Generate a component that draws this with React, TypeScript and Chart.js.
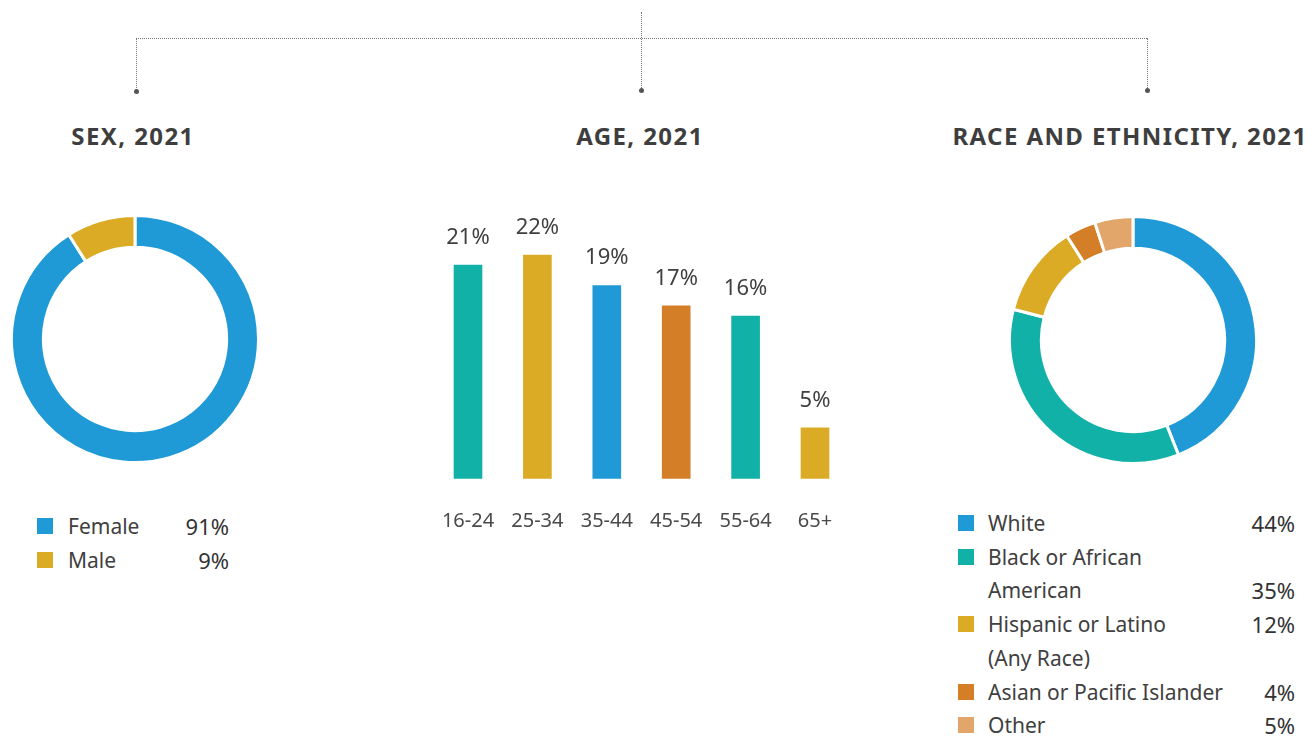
import React, { useEffect, useRef } from "react";
import { Chart, registerables } from "chart.js";
Chart.register(...registerables);

const titles = ["SEX, 2021", "AGE, 2021", "RACE AND ETHNICITY, 2021"];

const sexLabels = ["Female", "Male"];
const sexValues = [91, 9];
const sexColors = ["#1f9ad6", "#dcab26"];

const ageLabels = ["16-24", "25-34", "35-44", "45-54", "55-64", "65+"];
const ageValues = [21, 22, 19, 17, 16, 5];
const ageColors = ["#12b1a8", "#dcab26", "#1f9ad6", "#d47f27", "#12b1a8", "#dcab26"];

const raceLabels = [
  "White",
  "Black or African American",
  "Hispanic or Latino (Any Race)",
  "Asian or Pacific Islander",
  "Other",
];
const raceLegendLines = [
  ["White"],
  ["Black or African", "American"],
  ["Hispanic or Latino", "(Any Race)"],
  ["Asian or Pacific Islander"],
  ["Other"],
];
const raceValueLine = [0, 1, 0, 0, 0];
const raceValues = [44, 35, 12, 4, 5];
const raceColors = ["#1f9ad6", "#12b1a8", "#dcab26", "#d47f27", "#e2a66b"];

const FONT = '"Noto Sans", sans-serif';
const TEXT = "#404040";

function Donut(props: { labels: string[]; values: number[]; colors: string[]; left: number; top: number; size: number }) {
  const ref = useRef<HTMLCanvasElement | null>(null);
  useEffect(() => {
    if (!ref.current) return;
    const chart = new Chart(ref.current, {
      type: "doughnut",
      data: {
        labels: props.labels,
        datasets: [
          {
            data: props.values,
            backgroundColor: props.colors,
            borderColor: "#ffffff",
            borderWidth: 3,
            hoverOffset: 0,
          },
        ],
      },
      options: {
        responsive: false,
        animation: false,
        radius: 123.5,
        cutout: "74.2%",
        rotation: 0,
        plugins: { legend: { display: false }, tooltip: { enabled: false } },
        events: [],
      } as any,
    });
    return () => chart.destroy();
  }, []);
  return (
    <canvas
      ref={ref}
      width={props.size}
      height={props.size}
      style={{ position: "absolute", left: props.left, top: props.top, width: props.size, height: props.size }}
    />
  );
}

function Bars() {
  const ref = useRef<HTMLCanvasElement | null>(null);
  useEffect(() => {
    if (!ref.current) return;
    const labelPlugin = {
      id: "barLabels",
      afterDatasetsDraw(chart: any) {
        const ctx = chart.ctx;
        const meta = chart.getDatasetMeta(0);
        ctx.save();
        ctx.textAlign = "center";
        ctx.textBaseline = "alphabetic";
        meta.data.forEach((bar: any, i: number) => {
          ctx.fillStyle = TEXT;
          ctx.font = `22px ${FONT}`;
          ctx.fillText(ageValues[i] + "%", bar.x, bar.y - 21);
          ctx.fillStyle = "#4a4a4a";
          ctx.font = `20px ${FONT}`;
          ctx.fillText(ageLabels[i], bar.x, 326.7);
        });
        ctx.restore();
      },
    };
    const chart = new Chart(ref.current, {
      type: "bar",
      data: {
        labels: ageLabels,
        datasets: [{ data: ageValues, backgroundColor: ageColors, barThickness: 28, borderWidth: 0 }],
      },
      options: {
        responsive: false,
        animation: false,
        layout: { padding: { left: 13.3, right: 10.3, top: 24.45, bottom: 61.3 } },
        scales: {
          x: { display: false, offset: true },
          y: { display: false, min: 0, max: 25 },
        },
        plugins: { legend: { display: false }, tooltip: { enabled: false } },
        events: [],
      } as any,
      plugins: [labelPlugin],
    });
    return () => chart.destroy();
  }, []);
  return (
    <canvas
      ref={ref}
      width={440}
      height={340}
      style={{ position: "absolute", left: 420, top: 200, width: 440, height: 340 }}
    />
  );
}

const abs = (s: any) => ({ position: "absolute" as const, ...s });

function Title(props: { text: string; cx: number }) {
  return (
    <div
      style={abs({
        left: props.cx - 250,
        width: 500,
        top: 121,
        height: 30,
        lineHeight: "30px",
        textAlign: "center",
        fontFamily: FONT,
        fontWeight: 700,
        fontSize: 24,
        letterSpacing: "1.4px",
        color: "#3e3e3e",
        whiteSpace: "nowrap",
      })}
    >
      {props.text}
    </div>
  );
}

function LegendLine(props: { cy: number; color?: string; text: string; value?: string; sqLeft: number; textLeft: number; valueRight: number }) {
  return (
    <>
      {props.color && (
        <div style={abs({ left: props.sqLeft, top: props.cy - 8, width: 16, height: 16, background: props.color })} />
      )}
      <div
        style={abs({
          left: props.textLeft,
          top: props.cy - 15,
          height: 30,
          lineHeight: "30px",
          fontFamily: FONT,
          fontSize: 21,
          color: TEXT,
          whiteSpace: "nowrap",
        })}
      >
        {props.text}
      </div>
      {props.value && (
        <div
          style={abs({
            left: props.valueRight - 100,
            width: 100,
            textAlign: "right",
            top: props.cy - 15,
            height: 30,
            lineHeight: "30px",
            fontFamily: FONT,
            fontSize: 22,
            color: "#333",
            whiteSpace: "nowrap",
          })}
        >
          {props.value}
        </div>
      )}
    </>
  );
}

function Connectors() {
  const line = "1px dotted #777";
  const dot = (x: number, y: number) => (
    <div style={abs({ left: x - 2.5, top: y - 2.5, width: 5, height: 5, borderRadius: 3, background: "#555" })} />
  );
  return (
    <>
      <div style={abs({ left: 136, top: 38, width: 1147 - 136, height: 0, borderTop: line })} />
      <div style={abs({ left: 136, top: 38, width: 0, height: 52, borderLeft: line })} />
      <div style={abs({ left: 641, top: 12, width: 0, height: 78, borderLeft: line })} />
      <div style={abs({ left: 1147, top: 38, width: 0, height: 52, borderLeft: line })} />
      {dot(136.5, 91)}
      {dot(641.5, 90)}
      {dot(1147.5, 90)}
    </>
  );
}

export default function App() {
  const raceRows: any[] = [];
  let lineIdx = 0;
  raceLegendLines.forEach((lines, r) => {
    lines.forEach((t, j) => {
      const cy = 523 + lineIdx * 33.7;
      raceRows.push(
        <LegendLine
          key={`r${r}-${j}`}
          cy={cy}
          color={j === 0 ? raceColors[r] : undefined}
          text={t}
          value={j === raceValueLine[r] ? raceValues[r] + "%" : undefined}
          sqLeft={958}
          textLeft={988}
          valueRight={1295}
        />
      );
      lineIdx++;
    });
  });
  return (
    <div style={abs({ left: 0, top: 0, width: 1316, height: 736, overflow: "hidden", background: "#fff" })}>
      <Connectors />
      <Title text={titles[0]} cx={133} />
      <Title text={titles[1]} cx={640} />
      <Title text={titles[2]} cx={1130} />
      <Donut labels={sexLabels} values={sexValues} colors={sexColors} left={10} top={214} size={250} />
      <Bars />
      <Donut labels={raceLabels} values={raceValues} colors={raceColors} left={1008} top={215} size={250} />
      {sexLabels.map((l, i) => (
        <LegendLine
          key={l}
          cy={526 + i * 33.5}
          color={sexColors[i]}
          text={l}
          value={sexValues[i] + "%"}
          sqLeft={37}
          textLeft={68}
          valueRight={229}
        />
      ))}
      {raceRows}
    </div>
  );
}
